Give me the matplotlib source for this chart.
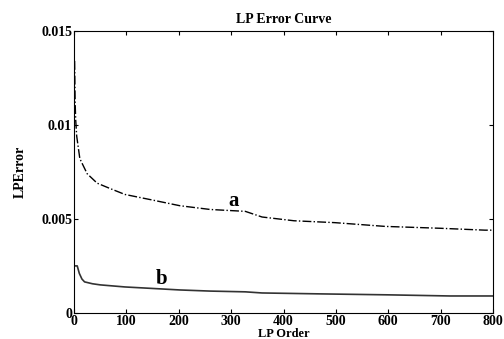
import numpy as np
import matplotlib.pyplot as plt

# LP order vs error
order_a = [1, 2, 3, 5, 11, 25, 44, 70, 97, 150, 202, 260, 327, 359, 420, 498, 594, 700, 785, 800]
err_a = [0.0134, 0.0112, 0.0103, 0.0094, 0.0082, 0.0074, 0.0069, 0.0066, 0.0063, 0.0060, 0.0057, 0.0055, 0.0054, 0.0051, 0.0049, 0.0048, 0.0046, 0.0045, 0.0044, 0.0044]

order_b = [1, 6, 10, 15, 20, 35, 50, 97, 150, 202, 260, 327, 359, 473, 600, 718, 800]
err_b = [0.0025, 0.0025, 0.0021, 0.0018, 0.00165, 0.00155, 0.00149, 0.00138, 0.0013, 0.00122, 0.00116, 0.00112, 0.00106, 0.00101, 0.00096, 0.0009, 0.0009]

xticks = [0, 100, 200, 300, 400, 500, 600, 700, 800]
yticks = [0, 0.005, 0.01, 0.015]
ytick_labels = ['0', '0.005', '0.01', '0.015']

plt.rcParams['font.family'] = ['Liberation Serif', 'DejaVu Serif']
plt.rcParams['font.weight'] = 'bold'

fig = plt.figure(figsize=(5.04, 3.39), dpi=100)
ax = fig.add_axes([0.147, 0.077, 0.831, 0.832])

ax.plot(order_a, err_a, color='black', lw=1.0, ls='-.')
ax.plot(order_b, err_b, color='#333333', lw=1.2)

ax.text(294, 0.0057, 'a', fontsize=15, fontweight='bold')
ax.text(155, 0.00152, 'b', fontsize=15, fontweight='bold')

ax.set_xlim(0, 800)
ax.set_ylim(0, 0.015)
ax.set_xticks(xticks)
ax.set_yticks(yticks)
ax.set_yticklabels(ytick_labels)
ax.tick_params(direction='in', top=True, right=True, labelsize=10, length=3, pad=1.5)
for lbl in ax.get_xticklabels() + ax.get_yticklabels():
    lbl.set_fontweight('bold')

ax.set_title('LP Error Curve', fontsize=10, fontweight='bold', pad=6)
ax.set_xlabel('LP Order', fontsize=9, fontweight='bold', labelpad=0)
ax.set_ylabel('LPError', fontsize=10, fontweight='bold', labelpad=10)

fig.savefig('out.png', dpi=100)
